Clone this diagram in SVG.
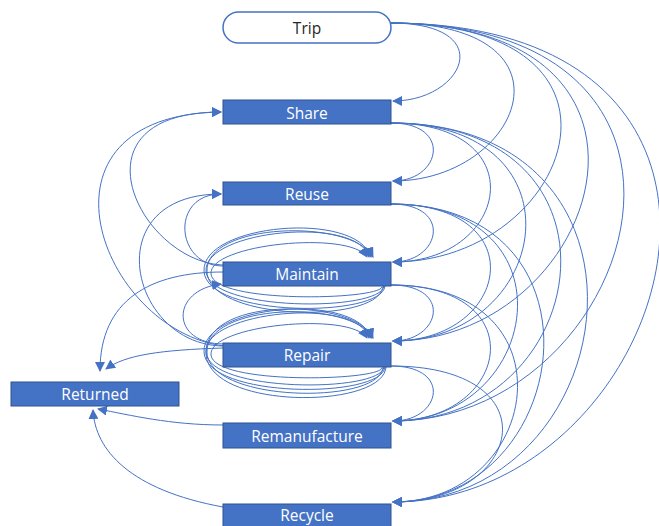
<svg xmlns="http://www.w3.org/2000/svg" width="659" height="526" viewBox="0 0 659 526">
<style>
.box{fill:#4472C4;stroke:#2F528F;stroke-width:1}
.trip{fill:#FFFFFF;stroke:#4472C4;stroke-width:1.5}
.lbl{font-family:"Open Sans","Liberation Sans",sans-serif;font-size:15.5px;fill:#FFFFFF;text-anchor:middle;dominant-baseline:central}
.dark{fill:#262626}
.edge{fill:none;stroke:#4472C4;stroke-width:1;marker-end:url(#ah)}
</style>
<defs>
<marker id="ah" viewBox="0 0 10 10" refX="9" refY="5" markerWidth="10" markerHeight="10" markerUnits="userSpaceOnUse" orient="auto">
<path d="M0,0 L10,5 L0,10 z" fill="#4472C4"/>
</marker>
</defs>
<g id="connectors">
<!-- Trip outgoing -->
<path class="edge" d="M390,23 C500,23 464,101 393,101"/>
<path class="edge" d="M390,23 C586,23 521,181 393,181"/>
<path class="edge" d="M390,23 C660,23 571,262 393,262"/>
<path class="edge" d="M390,23 C703,23 600,341 393,341"/>
<path class="edge" d="M390,23 C760,23 637,421 393,421"/>
<path class="edge" d="M390,23 C820,23 672,502 393,502"/>
<!-- Share outgoing -->
<path class="edge" d="M391,123 C453,123 441,181 393,181"/>
<path class="edge" d="M391,123 C536,123 510,262 393,262"/>
<path class="edge" d="M391,123 C588,123 552,341 393,341"/>
<path class="edge" d="M391,123 C639,123 594,421 393,421"/>
<path class="edge" d="M391,123 C678,123 626,502 393,502"/>
<!-- Reuse outgoing -->
<path class="edge" d="M391,204 C453,204 441,262 393,262"/>
<path class="edge" d="M391,204 C536,204 510,341 393,341"/>
<path class="edge" d="M391,204 C576,204 542,421 393,421"/>
<path class="edge" d="M391,204 C614,204 574,502 393,502"/>
<!-- Maintain outgoing -->
<path class="edge" d="M391,285 C453,285 441,341 393,341"/>
<path class="edge" d="M391,285 C536,285 510,421 393,421"/>
<path class="edge" d="M391,285 C576,285 542,502 393,502"/>
<!-- Repair outgoing -->
<path class="edge" d="M391,366 C453,366 441,421 393,421"/>
<path class="edge" d="M391,366 C554,366 524,502 393,502"/>
<!-- left side back edges -->
<path class="edge" d="M224,346 C100,330 20,115 221,112"/>
<path class="edge" d="M223,265 C140,262 65,112 221,112"/>
<path class="edge" d="M223,266 C175,266 170,194 221,194"/>
<path class="edge" d="M224,346 C130,346 95,194 221,194"/>
<path class="edge" d="M224,344 C170,344 170,290 221,284"/>
<!-- to Returned -->
<path class="edge" d="M223,272 C150,272 100,300 100,371"/>
<path class="edge" d="M223,348 C160,350 125,355 106,369"/>
<path class="edge" d="M223,425 C170,425 130,415 98,409"/>
<path class="edge" d="M223,507 C130,490 95,450 93,410"/>
<!-- Maintain loops -->
<path class="edge" d="M384,286 C381,312 208,312 206,271 C204,230 358,215 369,257"/>
<path class="edge" d="M385,286 C382,318 206,318 204,271 C202,224 356,210 371,257"/>
<path class="edge" d="M383,286 C381,324 210,322 207,272 C204,222 352,218 373,257"/>
<path class="edge" d="M382,287 C378,300 214,304 211,274 C208,244 350,230 367,257"/>
<!-- Repair loops -->
<path class="edge" d="M384,367 C381,393 208,393 206,352 C204,311 358,296 369,338"/>
<path class="edge" d="M385,367 C382,399 206,399 204,352 C202,305 356,291 371,338"/>
<path class="edge" d="M383,367 C381,405 210,403 207,353 C204,303 352,299 373,338"/>
<path class="edge" d="M382,368 C378,381 214,385 211,355 C208,325 350,311 367,338"/>
<path class="edge" d="M386,367 C383,410 205,410 206,352 C207,294 360,300 372,338"/>
</g>
<g id="trip"><rect class="trip" x="223" y="12" width="168" height="31" rx="15.5"/><text class="lbl dark" x="307" y="28">Trip</text></g>
<g id="share"><rect class="box" x="223" y="100" width="168" height="24"/><text class="lbl" x="307" y="112.5">Share</text></g>
<g id="reuse"><rect class="box" x="223" y="182" width="168" height="23"/><text class="lbl" x="307" y="193.5">Reuse</text></g>
<g id="maintain"><rect class="box" x="223" y="262" width="168" height="24"/><text class="lbl" x="307" y="274">Maintain</text></g>
<g id="repair"><rect class="box" x="223" y="343" width="168" height="24"/><text class="lbl" x="307" y="355">Repair</text></g>
<g id="returned"><rect class="box" x="11" y="382" width="168" height="24"/><text class="lbl" x="95" y="394">Returned</text></g>
<g id="remanufacture"><rect class="box" x="223" y="423" width="168" height="25"/><text class="lbl" x="307" y="435.5">Remanufacture</text></g>
<g id="recycle"><rect class="box" x="223" y="504" width="168" height="24"/><text class="lbl" x="307" y="514.5">Recycle</text></g>
</svg>
